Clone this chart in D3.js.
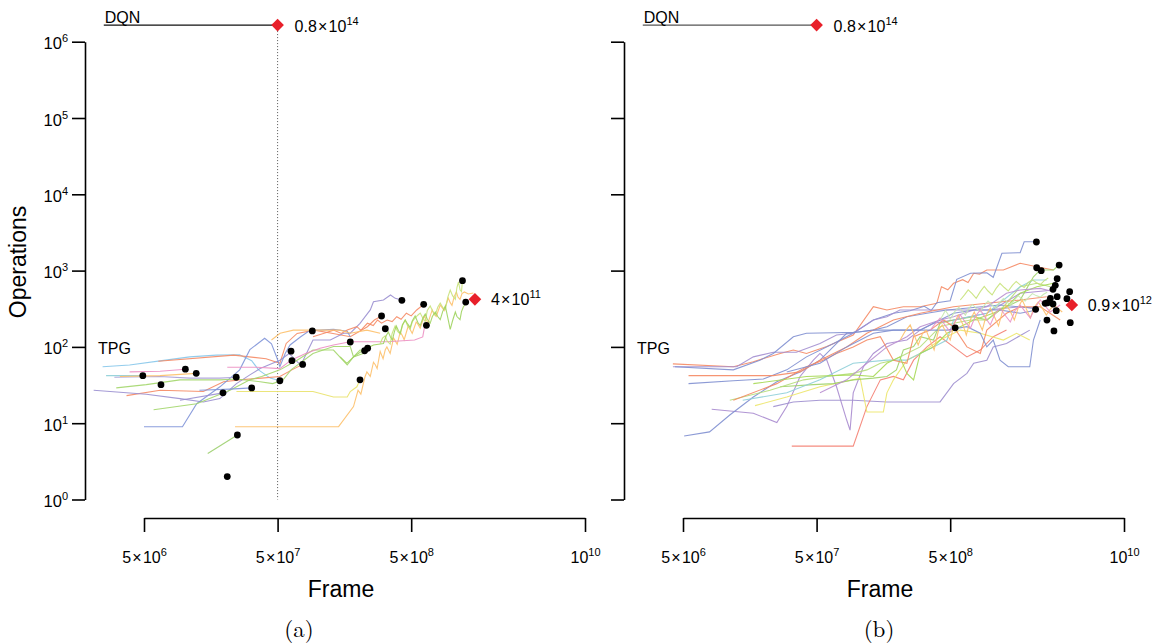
<!DOCTYPE html>
<html><head><meta charset="utf-8">
<script src="https://cdn.jsdelivr.net/npm/d3@7"></script>
<style>body{margin:0;background:#fff}svg{display:block}</style>
</head><body>
<svg id="chart" width="1161" height="644"></svg>
<script>
// ---------------- DATA ----------------
const frameTicks = [5e6, 5e7, 5e8, 1e10];
const frameTickBase = ["5×10", "5×10", "5×10", "10"];
const frameTickExp = ["6", "7", "8", "10"];
const opsTicks = [1, 10, 100, 1e3, 1e4, 1e5, 1e6];
const opsTickExp = ["0", "1", "2", "3", "4", "5", "6"];
const panelCaptions = ["(a)", "(b)"];
const xTitle = "Frame";
const yTitle = "Operations";

// DQN reference (drawn at top of chart, actual value off-scale)
const dqnStartFrame = 2.5e6;
const dqnFrame = 5e7;
const dqnOpsPlot = 1.65e6;
const dqnLabelBase = "0.8×10", dqnLabelExp = "14";

// TPG champion marker per panel
const tpgMarkerA = [1.5e9, 420];
const tpgMarkerB = [4.07e9, 354];
const tpgLabelA = ["4×10", "11"];
const tpgLabelB = ["0.9×10", "12"];

// Panel (a): trajectories [frame, operations]
const seriesA = [
  [[2.45e6,55],[3.9e6,58],[6.8e6,66],[1.1e7,74],[1.74e7,78],[2.6e7,79],[3.2e7,66],[3.6e7,50],[4.4e7,39],[5.2e7,36]],
  [[6.4e6,65],[2.35e7,78],[4.1e7,70],[5.2e7,61],[5.8e7,111],[7e7,150],[9.4e7,166],[1.3e8,150],[1.75e8,136],[2.35e8,184],[2.65e8,225],[3.0e8,254]],
  [[3.7e6,23],[6.6e6,27],[1.39e7,26],[1.97e7,35],[2.6e7,37],[3.8e7,39],[5.2e7,41],[6.4e7,50],[7.7e7,59]],
  [[2.1e6,27],[5.2e6,24],[9.3e6,21],[1.39e7,19],[1.85e7,21],[2.46e7,33],[3.1e7,43],[3.7e7,52],[5.2e7,67],[6.1e7,82],[7.4e7,58],[7.8e7,68],[9.2e7,123],[1.24e8,123],[1.56e8,151],[1.75e8,151],[2.07e8,204],[2.47e8,305],[2.61e8,391],[3.1e8,412],[3.5e8,479],[3.8e8,433],[4.3e8,408]],
  [[5.0e6,9],[9.7e6,9],[1.24e7,18],[1.85e7,30],[2.6e7,50],[3.1e7,92],[4.0e7,130],[4.5e7,110],[4.9e7,75],[5.2e7,55],[5.7e7,82],[6.2e7,106],[7.4e7,135],[8.8e7,166],[1.04e8,166],[1.31e8,170],[1.66e8,160],[1.75e8,136]],
  [[3.1e6,29],[5.2e6,32],[9.3e6,37],[1.85e7,37],[2.46e7,38],[3.7e7,35],[4.6e7,33],[5.5e7,37],[6.3e7,50],[9.2e7,82],[1.31e8,101],[1.75e8,101],[1.85e8,74],[2.07e8,91],[2.24e8,89]],
  [[5.9e6,15],[1.24e7,18],[2.2e7,27],[3.1e7,37],[3.8e7,41],[5.2e7,50],[7e7,67],[9.2e7,91],[1.31e8,91],[1.66e8,58],[1.85e8,74],[2.18e8,82],[2.36e8,96]],
  [[1.5e7,4],[2.5e7,7]],
  [[2.46e7,26],[9.2e7,26],[1.31e8,22],[1.66e8,22],[1.75e8,26],[1.96e8,30],[2.07e8,37]],
  [[2.4e7,9],[1.43e8,9],[1.85e8,16.5],[2.0e8,27],[2.1e8,24],[2.25e8,40],[2.33e8,47],[2.47e8,41],[2.61e8,63],[2.7e8,58],[2.78e8,52],[2.93e8,87],[3.08e8,70],[3.2e8,92],[3.29e8,100],[3.48e8,82],[3.69e8,131],[3.8e8,120],[3.93e8,108],[4.14e8,157],[4.3e8,140],[4.43e8,124],[4.75e8,188],[4.9e8,170],[5.09e8,150],[5.45e8,212],[5.6e8,200],[5.84e8,176],[6.26e8,254],[6.5e8,220],[6.7e8,210],[7.18e8,305],[7.4e8,270],[7.7e8,250],[8.25e8,354],[8.5e8,330],[8.84e8,300],[9.47e8,437],[9.8e8,380],[1.01e9,350],[1.05e9,460],[1.09e9,525],[1.12e9,450],[1.16e9,420],[1.2e9,500],[1.25e9,525],[1.34e9,493],[1.46e9,508]],
  [[2.1e7,54],[3.5e7,54],[5.2e7,52],[6.3e7,67],[8.1e7,82],[1.04e8,96],[1.31e8,106],[1.75e8,117],[3.3e8,117],[5.3e8,123],[6.1e8,135],[6.3e8,184]],
  [[2.93e8,111],[3.05e8,130],[3.19e8,139],[3.3e8,120],[3.48e8,109],[3.6e8,150],[3.79e8,188],[3.95e8,160],[4.14e8,148],[4.3e8,190],[4.51e8,225],[4.7e8,190],[4.91e8,170],[5.1e8,215],[5.35e8,239],[5.6e8,260],[5.84e8,278],[6.1e8,240],[6.37e8,215],[6.6e8,300],[6.94e8,344],[7.2e8,300],[7.57e8,260],[7.9e8,330],[8.25e8,376],[8.6e8,330],[9.0e8,310],[9.4e8,450],[9.8e8,557],[1.02e9,470],[1.07e9,420],[1.1e9,600],[1.13e9,710],[1.16e9,560],[1.19e9,530],[1.21e9,738]],
  [[1.47e8,74],[1.65e8,61],[1.85e8,74],[2.2e8,91],[2.61e8,106],[3.1e8,111],[3.25e8,140],[3.37e8,157],[3.5e8,135],[3.61e8,123],[3.75e8,160],[3.87e8,188],[4.0e8,165],[4.14e8,150],[4.3e8,195],[4.51e8,225],[4.7e8,200],[4.91e8,180],[5.1e8,220],[5.35e8,254],[5.6e8,210],[5.84e8,190],[6.1e8,235],[6.37e8,270],[6.6e8,230],[6.94e8,205],[7.2e8,250],[7.57e8,287],[7.9e8,250],[8.25e8,228],[8.6e8,290],[9.0e8,344],[9.4e8,240],[9.8e8,170],[1.02e9,220],[1.07e9,287],[1.1e9,250],[1.16e9,228],[1.19e9,290],[1.23e9,336],[1.31e9,388]],
  [[9.2e7,136],[1.1e8,150],[1.31e8,166],[1.5e8,150],[1.66e8,166],[1.96e8,184],[2.1e8,165],[2.35e8,204],[2.6e8,190],[2.8e8,225],[3.0e8,205],[3.3e8,225],[3.6e8,215],[3.9e8,249],[4.2e8,230],[4.6e8,276],[5.0e8,255],[5.5e8,305],[6.2e8,361]],
  [[4.5e7,123],[5.22e7,151],[6.56e7,166],[9.27e7,166],[1.47e8,166],[1.75e8,151],[2.33e8,166],[2.93e8,151]],
  [[3.0e6,40],[6.6e6,41],[1.1e7,39],[1.85e7,39],[2.46e7,40]],
  [[2.6e6,42],[4.9e6,42]],
  [[3.9e6,47],[6.6e6,48],[1.02e7,51]],
  [[3.3e6,41],[6.6e6,42],[1.23e7,45]],
  [[9.3e6,20],[1.95e7,25]],
  [[1.3e7,27],[2.2e7,28],[3.2e7,29]]
];
const colorsA = ["#86c6ea","#f58a64","#f58a64","#9a8fd0","#7f93d8","#a3d66b","#a3d66b","#9ccf6e","#e9e26c","#fdc06a","#ec8fc3","#c8e27a","#9fd35e","#f58a64","#fdc06a","#a99fd6","#8fcfd8","#ec8fc3","#fdc06a","#9a8fd0","#7f93d8"];
const dotsA = [[4.9e6,42],[6.7e6,32],[1.02e7,51],[1.23e7,45],[1.95e7,25],[2.45e7,40],[3.2e7,29],[2.5e7,7],[2.1e7,2],[5.2e7,36],[6.3e7,88],[6.4e7,66],[7.7e7,59],[9.1e7,162],[1.75e8,116],[2.07e8,37],[2.24e8,89],[2.36e8,96],[3.0e8,254],[3.2e8,173],[4.26e8,408],[6.2e8,361],[6.5e8,192],[1.21e9,738],[1.28e9,387]];

// Panel (b): trajectories [frame, operations]
const seriesB = [
  [[4.2e6,60],[1.19e7,55],[1.68e7,64],[2.67e7,82],[3.35e7,91],[4.2e7,82],[5.96e7,101],[9.4e7,143],[1.33e8,336],[1.68e8,305],[2.23e8,336],[2.98e8,336],[3.97e8,373],[4.3e8,615],[4.8e8,560],[5.3e8,682],[6.2e8,760],[6.8e8,700],[7.5e8,922],[8.3e8,900],[9.4e8,1020],[1.25e9,1020],[1.67e9,1250],[2.23e9,1125],[2.97e9,1020]],
  [[5.5e6,33],[1.19e7,36],[2.0e7,38],[2.99e7,50],[4.2e7,74],[6.7e7,111],[9.4e7,151],[1.33e8,225],[1.88e8,276],[2.5e8,298],[3.2e8,340],[3.6e8,300],[3.97e8,380],[5.0e8,403],[5.6e8,769],[7.1e8,922],[9.4e8,938],[1.05e9,817],[1.22e9,1690],[1.67e9,1720],[1.79e9,2390],[2.2e9,2390]],
  [[4.2e6,55],[1.26e7,55],[1.68e7,74],[2.37e7,85],[3.53e7,85],[5.3e7,111],[7.05e7,143],[9.4e7,151],[1.33e8,225],[1.68e8,249],[2.1e8,305],[2.98e8,305],[5.3e8,305],[9.4e8,305],[1.67e9,336],[2.23e9,320]],
  [[8.2e6,15.2],[1.68e7,13.5],[2.52e7,10.2],[2.99e7,16.5],[3.76e7,41],[4.73e7,67],[5.3e7,82],[5.96e7,67],[7.05e7,30],[8.4e7,11],[8.9e7,8.1],[9.4e7,25],[1.12e8,55],[1.33e8,82],[1.68e8,111],[2.37e8,123],[2.98e8,166],[3.75e8,204],[5.3e8,225],[9.4e8,276],[1.67e9,505],[2.97e9,557]],
  [[5.1e6,6.8],[7.9e6,7.7],[1.12e7,12.8],[1.68e7,22],[2.52e7,35],[3.76e7,47],[5.3e7,67],[8.4e7,151],[1.06e8,158],[1.33e8,166],[1.68e8,184],[2.37e8,249],[3.35e8,276],[4.73e8,305],[1.18e9,354],[2.1e9,321]],
  [[2.37e7,16.5],[3.35e7,19],[5.3e7,20],[9.4e7,20],[1.68e8,19],[4.2e8,19],[5.3e8,33],[6.67e8,45],[7.5e8,61],[9.4e8,67],[1.05e9,100],[1.32e9,111],[1.97e9,166]],
  [[3.26e7,5],[9.4e7,5],[1.19e8,16.5],[1.5e8,37],[1.88e8,41],[2.23e8,37],[2.66e8,67],[3.35e8,100],[4.2e8,136],[5.3e8,100],[6.67e8,74],[8.4e8,91],[1.05e9,136],[1.32e9,166]],
  [[1.73e7,17],[2.99e7,22],[5.3e7,30],[1.06e8,39],[1.19e8,14],[1.58e8,14],[1.68e8,25],[1.88e8,37],[2.37e8,67],[2.98e8,82],[4.2e8,123],[5.95e8,166],[8.4e8,151],[1.25e9,123],[1.57e9,151],[1.97e9,123]],
  [[2.67e7,30],[4.73e7,32],[6.7e7,33],[9.4e7,37],[1.33e8,39],[1.68e8,41],[1.98e8,50],[2.23e8,91],[2.66e8,101],[2.98e8,136],[3.75e8,123],[4.2e8,204],[5.3e8,225],[7.5e8,249],[9.4e8,225],[1.18e9,305],[1.67e9,412],[2.1e9,830],[2.36e9,1020],[2.97e9,1020],[3.27e9,1200]],
  [[1.12e7,20],[2.24e7,27],[4.0e7,37],[5.96e7,41],[9.4e7,45],[1.19e8,50],[1.5e8,61],[1.88e8,67],[2.37e8,82],[2.98e8,100],[4.2e8,184],[5.3e8,204],[7.1e8,225],[9.4e8,225],[1.25e9,336],[1.67e9,615],[2.23e9,682],[2.81e9,615]],
  [[1.4e7,20],[2.99e7,25],[5.3e7,37],[9.4e7,61],[1.68e8,67],[2.37e8,67],[2.98e8,82],[3.75e8,100],[4.73e8,123],[5.3e8,225],[9.4e8,276],[1.67e9,615],[2.1e9,753],[2.64e9,753]],
  [[1.19e7,20],[2.52e7,33],[4.2e7,55],[5.6e7,67],[7.05e7,82],[9.4e7,100],[1.19e8,123],[1.5e8,136],[1.88e8,67],[2.37e8,61],[2.66e8,136],[3.55e8,166],[4.47e8,225],[5.3e8,184],[6.67e8,100],[8.4e8,82],[9.4e8,166],[1.32e9,276],[1.67e9,336],[2.36e9,336],[3.33e9,225]],
  [[5.5e6,42],[2.37e7,42],[3.76e7,47],[5.3e7,67],[8.4e7,100],[1.19e8,151],[1.88e8,225],[2.98e8,276],[5.3e8,336],[9.4e8,373],[1.67e9,412],[2.64e9,455]],
  [[1.68e7,33],[4.2e7,41],[9.4e7,43],[1.33e8,41],[1.68e8,61],[2.1e8,74],[2.37e8,45],[2.66e8,37],[2.98e8,82],[3.75e8,100],[4.73e8,151],[5.95e8,184],[7.5e8,225],[1.05e9,276],[1.32e9,336],[1.67e9,505],[2.23e9,615],[2.97e9,682]],
  [[5.3e7,25],[8.4e7,37],[1.19e8,61],[1.68e8,100],[2.37e8,136],[2.98e8,184],[4.2e8,225],[5.3e8,249],[7.5e8,305],[9.4e8,336],[1.32e9,505],[1.67e9,557],[2.36e9,585],[2.97e9,529]],
  [[2.99e7,47],[5.3e7,61],[8.4e7,100],[1.33e8,151],[1.88e8,166],[2.66e8,166],[3.75e8,166],[4.73e8,166],[6.67e8,184],[8.4e8,151],[9.4e8,100],[1.05e9,123],[1.18e9,67],[1.36e9,55],[1.97e9,55],[2.1e9,123],[2.36e9,225]],
  [[4.35e6,55],[1.19e7,50],[1.88e7,67],[2.37e7,82],[3.35e7,136],[4.2e7,151],[6.7e7,153],[9.4e7,155],[1.06e8,158],[1.33e8,166],[2.98e8,166],[4.2e8,225],[5.3e8,276],[7.5e8,305],[9.4e8,305],[1.18e9,305],[1.67e9,276],[2.23e9,305]],
  [[4.2e8,225],[4.4e8,260],[4.6e8,300],[4.8e8,270],[5.0e8,230],[5.4e8,290],[5.8e8,330],[6.1e8,300],[6.5e8,260],[6.9e8,320],[7.35e8,360],[7.8e8,320],[8.4e8,290],[9.0e8,350],[9.6e8,400],[1.02e9,360],[1.09e9,320],[1.17e9,380],[1.25e9,430],[1.33e9,390],[1.41e9,350],[1.51e9,410],[1.61e9,470],[1.71e9,430],[1.82e9,400],[1.94e9,450],[2.06e9,500],[2.2e9,470],[2.36e9,450],[2.5e9,490],[2.66e9,520]],
  [[2.11e8,123],[2.3e8,160],[2.51e8,194],[2.7e8,140],[2.88e8,106],[3.1e8,150],[3.3e8,166],[3.55e8,120],[3.79e8,91],[4.1e8,170],[4.36e8,194],[4.7e8,150],[5.0e8,123],[5.4e8,210],[5.74e8,262],[6.2e8,200],[6.6e8,143],[7.1e8,230],[7.57e8,287],[8.1e8,220],[8.7e8,166],[9.3e8,260],[9.98e8,323],[1.07e9,250],[1.15e9,188],[1.23e9,290],[1.31e9,354],[1.4e9,300],[1.51e9,225],[1.62e9,330],[1.73e9,412],[1.85e9,320],[1.99e9,239],[2.13e9,330],[2.28e9,388],[2.45e9,320],[2.62e9,262],[2.8e9,310],[3.0e9,354],[3.2e9,320],[3.45e9,287]],
  [[5.95e8,412],[6.4e8,480],[6.82e8,560],[7.3e8,500],[7.83e8,433],[8.4e8,530],[8.99e8,620],[9.6e8,540],[1.03e9,479],[1.1e9,580],[1.18e9,680],[1.27e9,600],[1.36e9,540],[1.46e9,640],[1.56e9,720],[1.67e9,650],[1.79e9,600],[1.92e9,700],[2.06e9,760],[2.2e9,700],[2.36e9,650],[2.53e9,740],[2.71e9,800]],
  [[3.55e8,166],[3.85e8,200],[4.2e8,239],[4.6e8,190],[5.0e8,157],[5.45e8,215],[5.95e8,262],[6.5e8,210],[7.1e8,177],[7.7e8,250],[8.4e8,305],[9.2e8,240],[9.98e8,194],[1.08e9,270],[1.18e9,323],[1.29e9,260],[1.41e9,212],[1.53e9,300],[1.67e9,354],[1.82e9,290],[1.99e9,239],[2.17e9,330],[2.36e9,412],[2.58e9,340],[2.81e9,287],[3.05e9,320],[3.33e9,354]]
];
const colorsB = ["#f58a64","#7f8fd0","#a38fd0","#a88bcf","#7f8fd0","#9f8fcf","#f47f72","#ece56a","#9fd16a","#b5dd7a","#8fcfd8","#f58a64","#f58a64","#a6d854","#b98fd0","#7f8fd0","#7f8fd0","#c4e8b0","#fdc06a","#c8e27a","#e892c8"];
const dotsB = [[2.21e9,2370],[2.22e9,1090],[2.4e9,997],[3.27e9,1180],[3.16e9,783],[3.06e9,642],[2.94e9,569],[3.92e9,529],[3.16e9,455],[3.74e9,428],[2.81e9,433],[2.68e9,379],[2.57e9,373],[2.94e9,365],[2.18e9,311],[3.11e9,298],[2.65e9,225],[3.96e9,208],[2.99e9,162],[5.45e8,178]];

// ---------------- DRAW ----------------
const svg = d3.select("#chart");
const FONT = "'Liberation Sans', Arial, Helvetica, sans-serif";
svg.attr("font-family", FONT);

const y = d3.scaleLog().domain([1, 1e6]).range([499.5, 41.7]);

function supLabel(g, x, yy, base, exp, anchor, size, expSize) {
  const t = g.append("text").attr("x", x).attr("y", yy)
    .attr("text-anchor", anchor).attr("font-size", size).attr("fill", "#000");
  const parts = base.split("×");
  if (parts.length === 2) {
    t.append("tspan").text(parts[0]);
    t.append("tspan").attr("dx", 1.2).text("×");
    t.append("tspan").attr("dx", 1.2).text(parts[1]);
  } else {
    t.append("tspan").text(base);
  }
  t.append("tspan").attr("dy", -7).attr("font-size", expSize).text(exp);
  return t;
}

const panels = [
  {off: 0, series: seriesA, colors: colorsA, dots: dotsA, marker: tpgMarkerA, mlabel: tpgLabelA, yLabels: true, dotted: true, dqnColor: "#111", caption: panelCaptions[0], capX: 299},
  {off: 539, series: seriesB, colors: colorsB, dots: dotsB, marker: tpgMarkerB, mlabel: tpgLabelB, yLabels: false, dotted: false, dqnColor: "#555", caption: panelCaptions[1], capX: 879}
];

panels.forEach(p => {
  const g = svg.append("g");
  const x = d3.scaleLog().domain([5e6, 1e10]).range([144 + p.off, 585 + p.off]);

  // y axis
  const yAxis = d3.axisLeft(y).tickValues(opsTicks).tickSize(13).tickSizeOuter(0).tickFormat(() => "");
  const ya = g.append("g").attr("transform", `translate(${85 + p.off},0)`).call(yAxis);
  ya.select(".domain").attr("stroke", "#000").attr("stroke-width", 1.6);
  ya.selectAll(".tick line").attr("stroke", "#000").attr("stroke-width", 1.6);
  if (p.yLabels) {
    ya.selectAll(".tick").each(function(d, i) {
      supLabel(d3.select(this), -17, 7, "10", opsTickExp[i], "end", 16.5, 11);
    });
  }

  // x axis
  const xAxis = d3.axisBottom(x).tickValues(frameTicks).tickSize(14).tickSizeOuter(0).tickFormat(() => "");
  const xa = g.append("g").attr("transform", "translate(0,518)").call(xAxis);
  xa.select(".domain").attr("stroke", "#000").attr("stroke-width", 1.6);
  xa.selectAll(".tick line").attr("stroke", "#000").attr("stroke-width", 1.6);
  xa.selectAll(".tick").each(function(d, i) {
    supLabel(d3.select(this), 0, 45, frameTickBase[i], frameTickExp[i], "middle", 16, 11);
  });

  // axis titles
  g.append("text").attr("x", 341 + p.off).attr("y", 597).attr("text-anchor", "middle")
    .attr("font-size", 23).text(xTitle);
  g.append("text").attr("x", p.capX).attr("y", 637).attr("text-anchor", "middle")
    .attr("font-family", "'Latin Modern Roman','DejaVu Serif','Liberation Serif',serif")
    .attr("font-size", 23).text(p.caption);

  // DQN reference
  g.append("line").attr("x1", x(dqnStartFrame)).attr("x2", x(dqnFrame))
    .attr("y1", y(dqnOpsPlot)).attr("y2", y(dqnOpsPlot))
    .attr("stroke", p.dqnColor).attr("stroke-width", 1.1);
  g.append("text").attr("x", x(dqnStartFrame) + 1).attr("y", y(dqnOpsPlot) - 2)
    .attr("font-size", 16).text("DQN");
  if (p.dotted) {
    g.append("line").attr("x1", x(dqnFrame)).attr("x2", x(dqnFrame))
      .attr("y1", y(dqnOpsPlot)).attr("y2", y(1))
      .attr("stroke", "#555").attr("stroke-width", 1).attr("stroke-dasharray", "1,2");
  }

  // TPG label
  g.append("text").attr("x", 98 + p.off).attr("y", y(100) + 7).attr("font-size", 16).text("TPG");

  // trajectories
  const line = d3.line().x(d => x(d[0])).y(d => y(d[1]));
  g.append("g").selectAll("path").data(p.series).join("path")
    .attr("d", line).attr("fill", "none")
    .attr("stroke", (d, i) => p.colors[i % p.colors.length])
    .attr("stroke-width", 1.1).attr("stroke-opacity", 0.9);

  // champion dots
  g.append("g").selectAll("circle").data(p.dots).join("circle")
    .attr("cx", d => x(d[0])).attr("cy", d => y(d[1])).attr("r", 3.4).attr("fill", "#000");

  // diamonds
  const diamond = d3.symbol().type(d3.symbolSquare).size(80);
  const drawDiamond = (fx, oy) => g.append("path").attr("d", diamond())
    .attr("transform", `translate(${fx},${oy}) rotate(45)`).attr("fill", "#e8202a");
  drawDiamond(x(dqnFrame), y(dqnOpsPlot));
  supLabel(g, x(dqnFrame) + 17, y(dqnOpsPlot) + 6.5, dqnLabelBase, dqnLabelExp, "start", 16, 11);
  drawDiamond(x(p.marker[0]), y(p.marker[1]));
  supLabel(g, x(p.marker[0]) + 16, y(p.marker[1]) + 6, p.mlabel[0], p.mlabel[1], "start", 16, 11);
});

// y title
svg.append("text").attr("transform", "translate(26,262) rotate(-90)")
  .attr("text-anchor", "middle").attr("font-size", 23).text(yTitle);
</script>
</body></html>
